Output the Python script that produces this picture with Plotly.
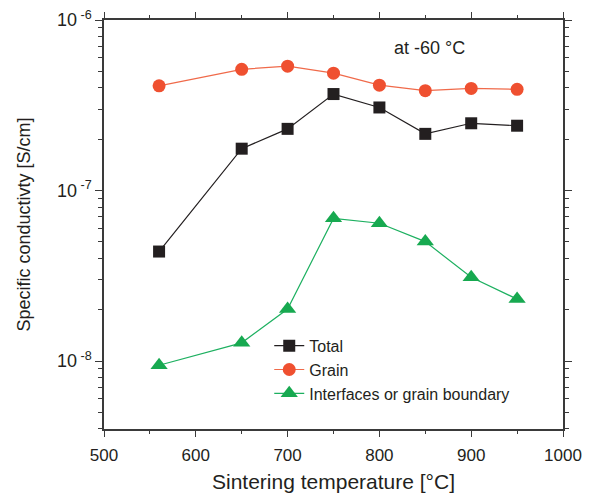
import plotly.graph_objects as go

# Sintering temperatures (°C)
temperature = [560, 650, 700, 750, 800, 850, 900, 950]

# Specific conductivity at -60 °C (S/cm)
total = [4.39e-8, 1.76e-7, 2.30e-7, 3.68e-7, 3.07e-7, 2.15e-7, 2.48e-7, 2.40e-7]
grain = [4.11e-7, 5.14e-7, 5.36e-7, 4.88e-7, 4.15e-7, 3.85e-7, 3.97e-7, 3.92e-7]
boundary = [9.46e-9, 1.28e-8, 2.02e-8, 6.87e-8, 6.43e-8, 5.02e-8, 3.10e-8, 2.31e-8]

ytick_vals = [1e-8, 1e-7, 1e-6]
ytick_text = ["10<sup> -8</sup>", "10<sup> -7</sup>", "10<sup> -6</sup>"]

FONT = "Arial, Liberation Sans, sans-serif"
AXIS_COLOR = "#3a3a3a"
TEXT_COLOR = "#231F20"

fig = go.Figure()

fig.add_trace(go.Scatter(
    x=temperature, y=total, name="Total", mode="lines+markers",
    line=dict(color="#231F20", width=1.2),
    marker=dict(symbol="square", size=12, color="#231F20"),
))
fig.add_trace(go.Scatter(
    x=temperature, y=grain, name="Grain", mode="lines+markers",
    line=dict(color="#F06A4A", width=1.2),
    marker=dict(symbol="circle", size=13, color="#EF5030"),
))
fig.add_trace(go.Scatter(
    x=temperature, y=boundary, name="Interfaces or grain boundary", mode="lines+markers",
    line=dict(color="#1DB060", width=1.2),
    marker=dict(symbol="triangle-up", size=15, color="#17A950"),
))

fig.add_annotation(
    text="at -60 °C", x=0.71, y=0.932, xref="paper", yref="paper",
    xanchor="center", yanchor="middle",
    showarrow=False, font=dict(size=18, color=TEXT_COLOR, family=FONT),
)

fig.update_layout(
    width=592, height=500,
    margin=dict(l=104, r=29, t=20, b=71),
    paper_bgcolor="white", plot_bgcolor="white",
    font=dict(family=FONT, color=TEXT_COLOR),
    showlegend=True,
    legend=dict(
        x=0.36, y=0.245, xanchor="left", yanchor="top",
        bgcolor="rgba(0,0,0,0)", font=dict(size=16, family=FONT, color=TEXT_COLOR),
        tracegroupgap=0, itemsizing="trace",
    ),
    xaxis=dict(
        range=[500, 1000], tickvals=[500, 600, 700, 800, 900, 1000],
        automargin=False,
        showgrid=False, zeroline=False,
        showline=True, linecolor=AXIS_COLOR, linewidth=1.5, mirror="ticks",
        ticks="outside", ticklen=6, tickwidth=1.2, tickcolor=AXIS_COLOR,
        ticklabelstandoff=4,
        minor=dict(dtick=50, ticks="outside", ticklen=3, tickwidth=1.2, tickcolor=AXIS_COLOR),
        tickfont=dict(size=17, family=FONT, color=TEXT_COLOR),
        title=dict(text="Sintering temperature [°C]", font=dict(size=21, family=FONT, color=TEXT_COLOR),
                   standoff=10),
    ),
    yaxis=dict(
        type="log", range=[-8.398, -6],
        tickvals=ytick_vals, ticktext=ytick_text,
        automargin=False,
        showgrid=False, zeroline=False,
        showline=True, linecolor=AXIS_COLOR, linewidth=1.5, mirror="ticks",
        ticks="outside", ticklen=7, tickwidth=1.2, tickcolor=AXIS_COLOR,
        minor=dict(dtick="D1", ticks="outside", ticklen=4, tickwidth=1.2, tickcolor=AXIS_COLOR),
        tickfont=dict(size=18, family=FONT, color=TEXT_COLOR),
        title=dict(text="Specific conductivty [S/cm]", font=dict(size=18, family=FONT, color=TEXT_COLOR),
                   standoff=22),
    ),
)

fig.write_html("out.html")
